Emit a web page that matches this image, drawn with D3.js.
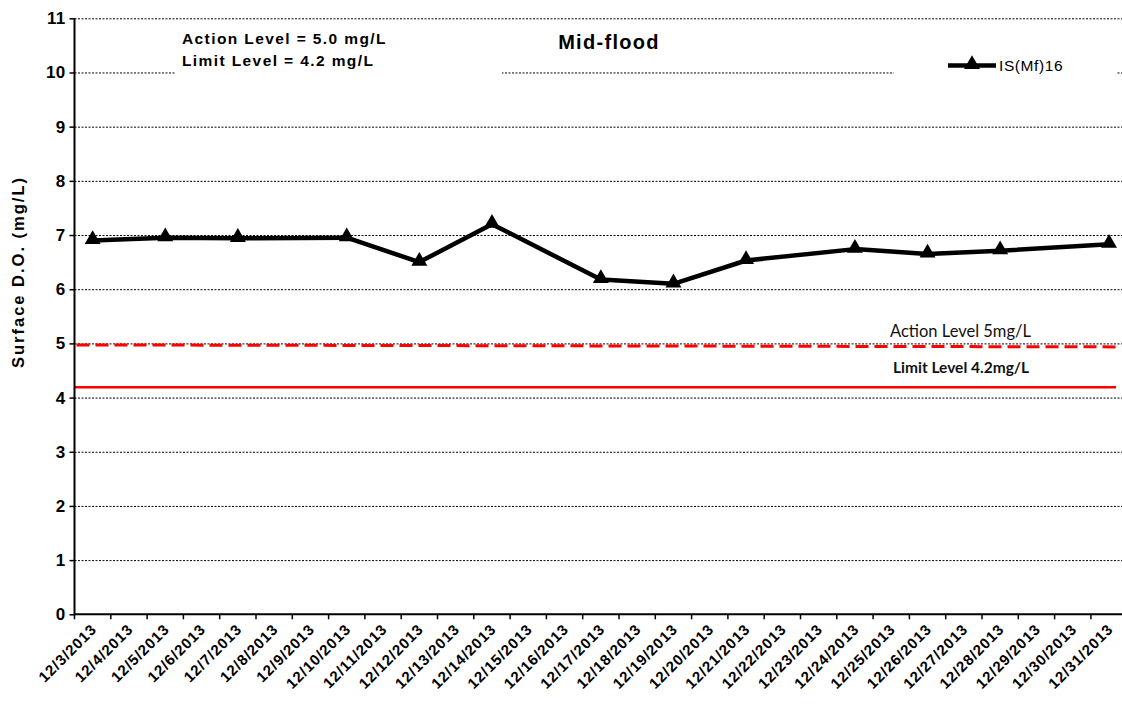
<!DOCTYPE html>
<html>
<head>
<meta charset="utf-8">
<script src="https://cdn.jsdelivr.net/npm/d3@7"></script>
<style>
  html, body { margin: 0; padding: 0; background: #fff; }
  svg { display: block; }
</style>
</head>
<body>
<svg id="chart" width="1122" height="706"></svg>
<script>
// ---- data ----
const categories = [
  "12/3/2013","12/4/2013","12/5/2013","12/6/2013","12/7/2013","12/8/2013","12/9/2013",
  "12/10/2013","12/11/2013","12/12/2013","12/13/2013","12/14/2013","12/15/2013","12/16/2013",
  "12/17/2013","12/18/2013","12/19/2013","12/20/2013","12/21/2013","12/22/2013","12/23/2013",
  "12/24/2013","12/25/2013","12/26/2013","12/27/2013","12/28/2013","12/29/2013","12/30/2013","12/31/2013"
];
const sampleDates = [
  "12/3/2013","12/5/2013","12/7/2013","12/10/2013","12/12/2013","12/14/2013","12/17/2013",
  "12/19/2013","12/21/2013","12/24/2013","12/26/2013","12/28/2013","12/31/2013"
];
const seriesValues = [6.90, 6.95, 6.94, 6.95, 6.50, 7.20, 6.18, 6.10, 6.53, 6.74, 6.65, 6.71, 6.83];
const seriesName = "IS(Mf)16";
const yTickValues = [0,1,2,3,4,5,6,7,8,9,10,11];
const actionLevel = 5.0;
const limitLevel = 4.2;
const titleText = "Mid-flood";
const yAxisTitle = "Surface D.O. (mg/L)";
const noteLines = ["Action Level = 5.0 mg/L", "Limit Level = 4.2 mg/L"];
const actionLabel = "Action Level 5mg/L";
const limitLabel = "Limit Level 4.2mg/L";

// ---- layout ----
const svg = d3.select("#chart");
const pLeft = 74.5, pTop = 18.3, pBottom = 614.3;
const step = 36.3;
const pRight = pLeft + step * categories.length;

const x = d3.scaleBand().domain(categories).range([pLeft, pRight]).padding(0);
const y = d3.scaleLinear().domain([0, 11]).range([pBottom, pTop]);
const cx = d => x(d) + x.bandwidth() / 2;

const F = "'Liberation Sans', Arial, sans-serif";

// gridlines
const grid = svg.append("g")
  .attr("transform", `translate(${pLeft},0)`)
  .call(d3.axisLeft(y).tickValues(yTickValues.filter(v => v > 0)).tickSize(-(1122 - pLeft)).tickFormat(""));
grid.select(".domain").remove();
grid.selectAll("line").attr("stroke", "#000").attr("stroke-width", 1).attr("stroke-dasharray", "2,1.5");

// white boxes (annotation / legend backgrounds)
svg.append("rect").attr("x", 176).attr("y", 24).attr("width", 326).attr("height", 52).attr("fill", "#fff");
svg.append("rect").attr("x", 894).attr("y", 50).attr("width", 223).attr("height", 30).attr("fill", "#fff");

// Limit line (solid red)
svg.append("line")
  .attr("x1", pLeft).attr("x2", 1116)
  .attr("y1", y(limitLevel) + 0.5).attr("y2", y(limitLevel) + 0.5)
  .attr("stroke", "#ff0000").attr("stroke-width", 2.5);

// Action line (dashed red)
svg.append("line")
  .attr("x1", pLeft + 2).attr("x2", 1118)
  .attr("y1", y(actionLevel) + 1.5).attr("y2", y(actionLevel) + 3.5)
  .attr("stroke", "#ff0000").attr("stroke-width", 3).attr("stroke-dasharray", "13,6");

// Axes
const yAxis = svg.append("g")
  .attr("transform", `translate(${pLeft},0)`)
  .call(d3.axisLeft(y).tickValues(yTickValues).tickSize(5).tickPadding(4).tickFormat(d3.format("d")));
yAxis.select(".domain").attr("stroke", "#000").attr("stroke-width", 2).attr("d", `M0,${pTop}V${pBottom}`);
yAxis.selectAll(".tick line").attr("stroke", "#000").attr("stroke-width", 1.5);
yAxis.selectAll("text").attr("font-family", F).attr("font-weight", "bold").attr("font-size", 17)
  .attr("letter-spacing", 0.3).attr("fill", "#000");

// x axis (ticks at category boundaries)
svg.append("line").attr("x1", pLeft).attr("x2", 1122).attr("y1", pBottom).attr("y2", pBottom)
  .attr("stroke", "#000").attr("stroke-width", 2);
svg.append("g").selectAll("line").data(categories).join("line")
  .attr("x1", d => x(d)).attr("x2", d => x(d))
  .attr("y1", pBottom).attr("y2", pBottom + 5)
  .attr("stroke", "#000").attr("stroke-width", 1.5);
const xAxis = svg.append("g")
  .attr("transform", `translate(0,${pBottom})`)
  .call(d3.axisBottom(x).tickSize(0).tickFormat(d => d));
xAxis.select(".domain").remove();
xAxis.selectAll("text")
  .attr("font-family", F).attr("font-weight", "bold").attr("font-size", 15)
  .attr("letter-spacing", 0.9).attr("fill", "#000")
  .attr("text-anchor", "end")
  .attr("dy", null).attr("y", null)
  .attr("transform", "translate(5,16) rotate(-45)");

// y axis title
svg.append("text")
  .attr("transform", `translate(24,272) rotate(-90)`)
  .attr("text-anchor", "middle")
  .attr("font-family", F).attr("font-weight", "bold").attr("font-size", 16.5)
  .attr("letter-spacing", 2)
  .text(yAxisTitle);

// data line
const line = d3.line().x((d, i) => cx(sampleDates[i])).y(d => y(d));
svg.append("path").datum(seriesValues)
  .attr("d", line).attr("fill", "none").attr("stroke", "#000").attr("stroke-width", 4.5)
  .attr("stroke-linejoin", "round");
const tri = d3.symbol().type(d3.symbolTriangle).size(110);
svg.append("g").selectAll("path").data(seriesValues).join("path")
  .attr("d", tri)
  .attr("transform", (d, i) => `translate(${cx(sampleDates[i])},${y(d) - 1})`)
  .attr("fill", "#000");

// title
svg.append("text").attr("x", 609).attr("y", 49).attr("text-anchor", "middle")
  .attr("font-family", F).attr("font-weight", "bold").attr("font-size", 20)
  .attr("letter-spacing", 1.3)
  .text(titleText);

// note
svg.append("g").selectAll("text").data(noteLines).join("text")
  .attr("x", 182).attr("y", (d, i) => 44 + i * 22)
  .attr("font-family", F).attr("font-weight", "bold").attr("font-size", 15.5)
  .attr("letter-spacing", 1.4)
  .text(d => d);

// legend
svg.append("line").attr("x1", 948).attr("x2", 996).attr("y1", 65.5).attr("y2", 65.5)
  .attr("stroke", "#000").attr("stroke-width", 4.5);
svg.append("path").attr("d", tri).attr("transform", "translate(972,64.5)").attr("fill", "#000");
svg.append("text").attr("x", 999).attr("y", 71)
  .attr("font-family", F).attr("font-size", 15.5).attr("letter-spacing", 0.6).text(seriesName);

// level labels
svg.append("text").attr("x", 890).attr("y", 337)
  .attr("font-family", "Lato, 'Open Sans', sans-serif").attr("font-size", 16.5).attr("fill", "#111")
  .text(actionLabel);
svg.append("text").attr("x", 893).attr("y", 373)
  .attr("font-family", "Lato, 'Open Sans', sans-serif").attr("font-weight", "bold").attr("font-size", 15.5).attr("fill", "#111")
  .text(limitLabel);
</script>
</body>
</html>
